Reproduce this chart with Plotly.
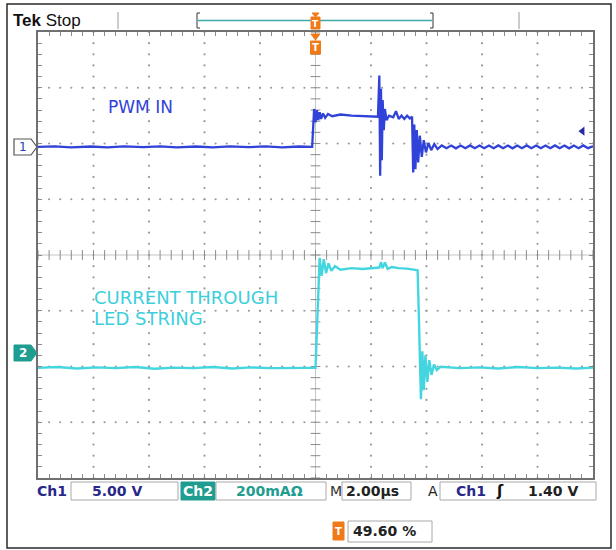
import plotly.graph_objects as go

W, H = 616, 550

# ---------------- scope settings ----------------
TIME_PER_DIV = 2.0          # us/div
CH1_VOLTS_PER_DIV = 5.0     # V/div
CH2_MA_PER_DIV = 200.0      # mA/div
CH1_POS_DIV = 1.94          # ground marker position (div)
CH2_POS_DIV = -1.76
TRIGGER_LEVEL = 1.40        # V on Ch1

# ---------------- Ch1 : PWM IN (us, V) ----------------
CH1_T = [-10.0, -9.4, -8.8, -8.1, -7.5, -6.9, -6.2, -5.6, -5.0, -4.3, -3.7, -3.1, -2.4, -1.8, -1.2, -0.6, -0.12,
         -0.05, 0.0, 0.05, 0.1, 0.15, 0.2, 0.27, 0.35, 0.45, 0.6, 0.9, 1.3, 1.7, 2.1, 2.25,
         2.3, 2.33, 2.36, 2.39, 2.42, 2.46, 2.5, 2.56, 2.65, 2.8, 2.9, 3.0, 3.1, 3.2, 3.3, 3.4, 3.48,
         3.52, 3.56, 3.6, 3.65, 3.7, 3.76, 3.83, 3.9, 3.98, 4.07, 4.17, 4.28, 4.4,
         4.55, 4.72, 4.89, 5.06, 5.23, 5.40, 5.57, 5.74, 5.91, 6.08, 6.25, 6.42, 6.59, 6.76, 6.93, 7.10,
         7.27, 7.44, 7.61, 7.78, 7.95, 8.12, 8.29, 8.46, 8.63, 8.80, 8.97, 9.14, 9.31, 9.48, 9.65, 9.82, 10.0]
CH1_V = [0.0, 0.05, -0.05, 0.03, -0.04, 0.05, -0.03, 0.04, -0.05, 0.03, -0.04, 0.05, -0.03, 0.04, -0.05, 0.03, 0.0,
         3.4, 2.2, 3.3, 2.4, 3.1, 2.5, 3.0, 2.6, 2.95, 2.75, 2.9, 2.8, 2.75, 2.7, 2.7,
         6.4, -2.6, 5.2, -1.2, 4.2, 1.5, 3.4, 2.4, 2.8, 2.65, 3.2, 2.5, 2.8, 2.5, 2.8, 2.55, 2.7,
         -2.3, 2.0, -2.0, 1.5, -1.4, 1.0, -0.9, 0.6, -0.5, 0.35, -0.3, 0.25, -0.2,
         0.13, -0.12, 0.12, -0.13, 0.12, -0.12, 0.13, -0.12, 0.12, -0.13, 0.12, -0.12, 0.13, -0.12, 0.12, -0.13,
         0.12, -0.12, 0.13, -0.12, 0.12, -0.13, 0.12, -0.12, 0.13, -0.12, 0.12, -0.13, 0.12, -0.12, 0.13, -0.12, 0.05]

# ---------------- Ch2 : current through LED string (us, mA) ----------------
CH2_T = [-10.0, -9.3, -8.6, -7.9, -7.2, -6.5, -5.8, -5.1, -4.4, -3.7, -3.0, -2.3, -1.6, -0.9, -0.3, 0.0,
         0.05, 0.1, 0.15, 0.22, 0.3, 0.38, 0.47, 0.57, 0.7, 0.9, 1.3, 1.7, 2.1, 2.3, 2.36, 2.42, 2.5, 2.6,
         2.75, 3.0, 3.3, 3.6, 3.68, 3.72, 3.76, 3.8, 3.85, 3.9, 3.96, 4.03, 4.1, 4.18, 4.27, 4.37, 4.5,
         5.2, 5.9, 6.6, 7.3, 8.0, 8.7, 9.4, 10.0]
CH2_MA = [-53, -50, -55, -51, -54, -50, -56, -52, -54, -50, -55, -51, -54, -52, -53, -53,
          100, 237, 342, 277, 337, 287, 322, 295, 312, 299, 305, 302, 304, 307, 327, 305, 325, 302,
          309, 305, 303, 299, 297, 150, -33, -165, 7, -133, -8, -103, -25, -78, -41, -61, -49,
          -54, -51, -55, -50, -54, -52, -55, -52]

# ---------------- labels ----------------
CH1_LABEL = "PWM IN"
CH2_LABEL = ["CURRENT THROUGH", "LED STRING"]
HEADER = ("Tek", "Stop")
READOUT = {"ch1": "Ch1", "ch1_scale": "5.00 V", "ch2": "Ch2", "ch2_scale": "200mA\u03a9",
           "m": "M", "time": "2.00\u00b5s", "a": "A", "trig_src": "Ch1", "slope": "\u0283",
           "trig_lvl": "1.40 V", "trig_pos": "49.60 %"}

BLUE = "#3142d8"
CYAN = "#44d6e0"
TEAL = "#1f9d90"
NAVY = "#28288a"
ORANGE = "#f07a18"

def px(x): return x / W
def py(y): return 1 - y / H

ch1_y = [CH1_POS_DIV + v / CH1_VOLTS_PER_DIV for v in CH1_V]
ch2_y = [CH2_POS_DIV + v / CH2_MA_PER_DIV for v in CH2_MA]

fig = go.Figure()

# graticule dots
gx, gy = [], []
for i in range(-4, 5):
    if i == 0:
        continue
    t = i * TIME_PER_DIV
    for k in range(-20, 21):
        gx.append(t); gy.append(k * 0.2)
for j in range(-3, 4):
    if j == 0:
        continue
    for k in range(-25, 26):
        gx.append(k * 0.4); gy.append(j)
fig.add_trace(go.Scatter(x=gx, y=gy, mode="markers", hoverinfo="skip",
                         marker=dict(size=2.2, color="#9a9a9a")))
# center lines
fig.add_trace(go.Scatter(x=[0, 0], y=[-4, 4], mode="lines", hoverinfo="skip",
                         line=dict(color="#c4c4c4", width=1)))
fig.add_trace(go.Scatter(x=[-10, 10], y=[0, 0], mode="lines", hoverinfo="skip",
                         line=dict(color="#c4c4c4", width=1)))
fig.add_trace(go.Scatter(x=[0] * 41, y=[k * 0.2 for k in range(-20, 21)], mode="markers", hoverinfo="skip",
                         marker=dict(symbol="line-ew", size=7, line=dict(color="#8a8a8a", width=1))))
fig.add_trace(go.Scatter(x=[k * 0.4 for k in range(-25, 26)], y=[0] * 51, mode="markers", hoverinfo="skip",
                         marker=dict(symbol="line-ns", size=7, line=dict(color="#8a8a8a", width=1))))

# waveforms
fig.add_trace(go.Scatter(x=CH1_T, y=ch1_y, mode="lines", hoverinfo="skip",
                         line=dict(color=BLUE, width=2.3)))
fig.add_trace(go.Scatter(x=CH2_T, y=ch2_y, mode="lines", hoverinfo="skip",
                         line=dict(color=CYAN, width=2.4)))
# trigger level arrow
fig.add_trace(go.Scatter(x=[9.62], y=[CH1_POS_DIV + TRIGGER_LEVEL / CH1_VOLTS_PER_DIV], mode="markers",
                         hoverinfo="skip", marker=dict(symbol="triangle-left", size=8, color="#2a2aa0")))

axis_common = dict(showgrid=False, zeroline=False, ticks="inside", ticklen=4, tickcolor="#8a8a8a",
                   showticklabels=False, showline=True, linecolor="#707070", linewidth=2,
                   mirror="allticks", fixedrange=True)
fig.update_layout(
    width=W, height=H, margin=dict(l=0, r=0, t=0, b=0),
    paper_bgcolor="white", plot_bgcolor="white", showlegend=False,
    xaxis=dict(domain=[px(38), px(593)], range=[-10, 10], dtick=0.4, tick0=0, **axis_common),
    yaxis=dict(domain=[py(478), py(32)], range=[-4, 4], dtick=0.2, tick0=0, **axis_common),
)

shapes = []
ann = []

def rect(x0, y0, x1, y1, line="#a8a8a8", fill=None, w=1):
    shapes.append(dict(type="rect", xref="paper", yref="paper", x0=px(x0), x1=px(x1), y0=py(y1), y1=py(y0),
                       line=dict(color=line, width=w), fillcolor=fill or "rgba(0,0,0,0)"))

def seg(x0, y0, x1, y1, color, w=1):
    shapes.append(dict(type="line", xref="paper", yref="paper", x0=px(x0), x1=px(x1), y0=py(y0), y1=py(y1),
                       line=dict(color=color, width=w)))

def path(pts, fill, line, w=1):
    d = "M " + " L ".join(f"{px(a):.5f},{py(b):.5f}" for a, b in pts) + " Z"
    shapes.append(dict(type="path", xref="paper", yref="paper", path=d, fillcolor=fill,
                       line=dict(color=line, width=w)))

def text(x, y, s, color="#222", size=13, anchor="left", family="DejaVu Sans", bold=False):
    ann.append(dict(xref="paper", yref="paper", x=px(x), y=py(y), text=(f"<b>{s}</b>" if bold else s),
                    showarrow=False, xanchor=anchor, yanchor="middle",
                    font=dict(family=family, size=size, color=color)))

# outer frame
rect(7, 4, 611, 548, line="#2a2a2a", w=1.5)

# header
text(11, 20, f"<b>{HEADER[0]}</b> {HEADER[1]}", color="#111", size=17, family="Liberation Sans")
seg(118, 12, 118, 29, "#9a9a9a", 1)
seg(519, 12, 519, 29, "#9a9a9a", 1)
seg(197, 13, 197, 28, "#555", 1.2); seg(197, 13, 200, 13, "#555", 1.2); seg(197, 28, 200, 28, "#555", 1.2)
seg(433, 13, 433, 28, "#555", 1.2); seg(433, 13, 430, 13, "#555", 1.2); seg(433, 28, 430, 28, "#555", 1.2)
seg(198, 20.5, 432, 20.5, "#3fa9a9", 1.5)
# trigger position markers
path([(312, 13), (319, 13), (315.5, 17)], ORANGE, ORANGE)
rect(311, 17, 320, 29, line=ORANGE, fill=ORANGE)
text(315.5, 23.5, "T", color="white", size=9, anchor="center", bold=True)
path([(311, 34), (320, 34), (315.5, 40)], ORANGE, ORANGE)
rect(310.5, 41, 320.5, 54, line=ORANGE, fill=ORANGE)
text(315.5, 47.5, "T", color="white", size=10, anchor="center", bold=True)

# channel ground markers
path([(14, 139), (31, 139), (37, 147), (31, 155), (14, 155)], "white", "#555", 1.2)
text(23, 147, "1", color="#2a3ab8", size=12, anchor="center")
path([(14, 345), (31, 345), (37, 353), (31, 361), (14, 361)], TEAL, TEAL, 1)
text(23, 353, "2", color="white", size=12, anchor="center", bold=True)

# waveform labels
text(106, 107, CH1_LABEL, color=BLUE, size=17, family="DejaVu Sans")
text(92, 297, CH2_LABEL[0], color="#3ccfdb", size=18, family="DejaVu Sans")
text(92, 318, CH2_LABEL[1], color="#3ccfdb", size=18, family="DejaVu Sans")

# readout row
rect(71, 482, 178, 500)
rect(181, 482, 215, 500, line=TEAL, fill=TEAL)
rect(216, 482, 326, 500)
rect(342, 482, 411, 500)
rect(440, 482, 596, 500)
text(35, 491, READOUT["ch1"], color=NAVY, size=14, bold=True)
text(90, 491, READOUT["ch1_scale"], color=NAVY, size=14, bold=True)
text(198, 491, READOUT["ch2"], color="white", size=14, anchor="center", bold=True)
text(234, 491, READOUT["ch2_scale"], color=TEAL, size=14, bold=True)
text(328, 491, READOUT["m"], color="#333", size=14)
text(344, 491, READOUT["time"], color="#222", size=14, bold=True)
text(426, 491, READOUT["a"], color="#222", size=14)
text(454, 491, READOUT["trig_src"], color=NAVY, size=14, bold=True)
text(500, 491, READOUT["slope"], color="#111", size=15, anchor="center", bold=True)
text(526, 491, READOUT["trig_lvl"], color="#222", size=14, bold=True)
# trigger position readout
rect(333, 522, 344, 540, line=ORANGE, fill=ORANGE)
text(338.5, 531, "T", color="white", size=10, anchor="center", bold=True)
rect(348, 521, 432, 542)
text(351, 531, READOUT["trig_pos"], color="#222", size=14, bold=True)

fig.update_layout(shapes=shapes, annotations=ann)
fig.write_html("out.html", config={"displayModeBar": False},
               post_script="document.body.style.margin='0';document.body.style.overflow='hidden';")
